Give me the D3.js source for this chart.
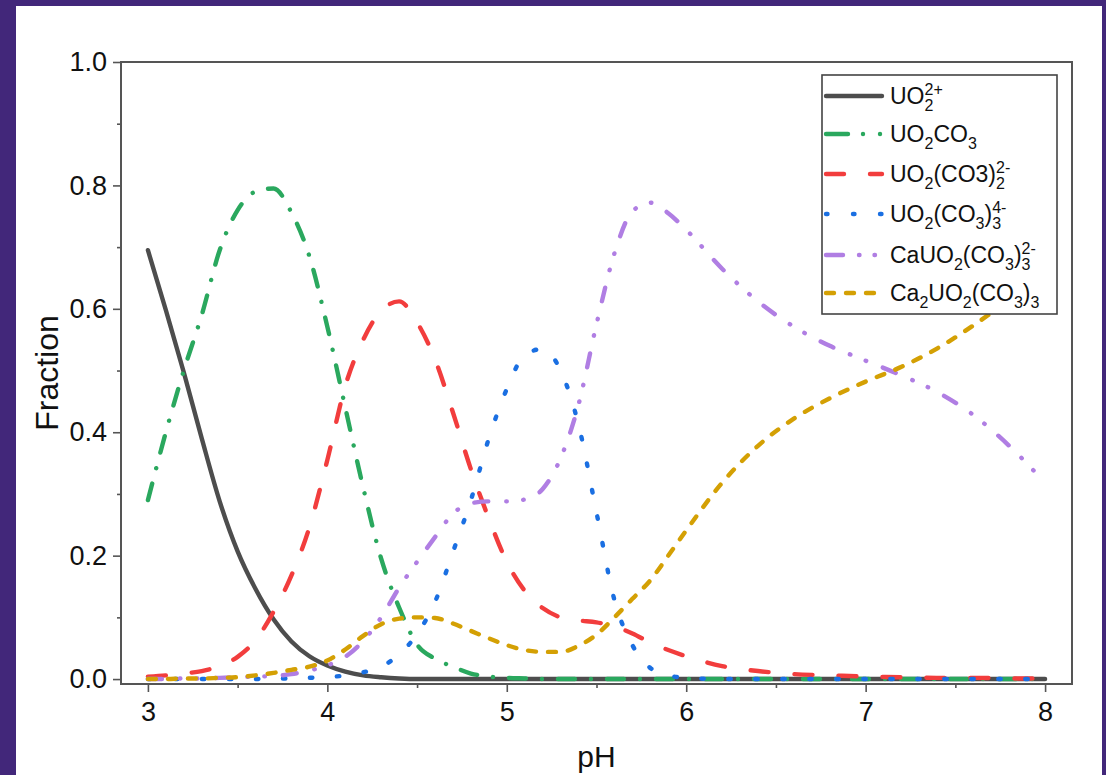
<!DOCTYPE html>
<html>
<head>
<meta charset="utf-8">
<script src="https://cdn.jsdelivr.net/npm/d3@7"></script>
<style>
  html, body { margin: 0; padding: 0; background: #42277a; }
  svg { display: block; }
  text { font-family: "Liberation Sans", Arial, sans-serif; fill: #111; }
</style>
</head>
<body>
<div id="chart"></div>
<script>
// species fractions
const pH = [3.0, 3.1, 3.2, 3.3, 3.4, 3.5, 3.6, 3.7, 3.8, 3.9,
  4.0, 4.1, 4.2, 4.3, 4.4, 4.5, 4.6, 4.7, 4.8, 4.9,
  5.0, 5.1, 5.2, 5.3, 5.4, 5.5, 5.6, 5.7, 5.8, 5.9,
  6.0, 6.2, 6.4, 6.6, 6.8, 7.0, 7.2, 7.4, 7.6, 7.8, 8.0];

const uo2 = [0.695, 0.598, 0.497, 0.39, 0.288, 0.207, 0.146, 0.097, 0.061, 0.037,
  0.022, 0.012, 0.006, 0.003, 0.001, 0, 0, 0, 0, 0,
  0, 0, 0, 0, 0, 0, 0, 0, 0, 0,
  0, 0, 0, 0, 0, 0, 0, 0, 0, 0, 0];

const uo2co3 = [0.29, 0.40, 0.50, 0.59, 0.695, 0.76, 0.79, 0.795, 0.756, 0.685,
  0.571, 0.44, 0.31, 0.195, 0.116, 0.056, 0.033, 0.02, 0.009, 0.004,
  0.002, 0.001, 0, 0, 0, 0, 0, 0, 0, 0,
  0, 0, 0, 0, 0, 0, 0, 0, 0, 0, 0];

const uo2co32 = [0.004, 0.006, 0.009, 0.013, 0.021, 0.036, 0.063, 0.109, 0.168, 0.246,
  0.355, 0.475, 0.55, 0.597, 0.612, 0.578, 0.518, 0.432, 0.34, 0.26,
  0.19, 0.143, 0.115, 0.1, 0.095, 0.092, 0.085, 0.074, 0.059, 0.047,
  0.037, 0.021, 0.013, 0.008, 0.006, 0.004, 0.003, 0.002, 0.002, 0.001, 0.001];

const uo2co33 = [0, 0, 0, 0, 0, 0, 0, 0.001, 0.001, 0.002,
  0.003, 0.006, 0.011, 0.02, 0.04, 0.073, 0.125, 0.206, 0.29, 0.39,
  0.47, 0.525, 0.535, 0.50, 0.412, 0.27, 0.128, 0.055, 0.018, 0.006,
  0.002, 0, 0, 0, 0, 0, 0, 0, 0, 0, 0];

const cauo2co33 = [0, 0, 0.001, 0.001, 0.002, 0.003, 0.004, 0.005, 0.008, 0.014,
  0.022, 0.036, 0.062, 0.1, 0.148, 0.19, 0.23, 0.268, 0.285, 0.288,
  0.288, 0.291, 0.308, 0.358, 0.445, 0.575, 0.69, 0.758, 0.772, 0.755,
  0.728, 0.665, 0.612, 0.571, 0.54, 0.516, 0.492, 0.465, 0.428, 0.378, 0.318];

const ca2uo2co33 = [0, 0, 0.001, 0.001, 0.002, 0.003, 0.006, 0.01, 0.015, 0.02,
  0.03, 0.048, 0.07, 0.089, 0.098, 0.1, 0.099, 0.09, 0.078, 0.066,
  0.055, 0.047, 0.044, 0.044, 0.054, 0.072, 0.1, 0.13, 0.16, 0.2,
  0.241, 0.318, 0.378, 0.422, 0.455, 0.482, 0.506, 0.536, 0.573, 0.615, 0.66];

const yTicks = [0, 0.2, 0.4, 0.6, 0.8, 1.0];
const yMinor = [0.1, 0.3, 0.5, 0.7, 0.9];
const xTicks = [3, 4, 5, 6, 7, 8];
const xMinor = [3.5, 4.5, 5.5, 6.5, 7.5];

// legend labels: plain text pieces and stacked sub/sup pieces
const labels = [
  [{t: 'UO'}, {sub: '2', sup: '2+'}],
  [{t: 'UO'}, {sub: '2'}, {t: 'CO'}, {sub: '3'}],
  [{t: 'UO'}, {sub: '2'}, {t: '(CO3)'}, {sub: '2', sup: '2-'}],
  [{t: 'UO'}, {sub: '2'}, {t: '(CO'}, {sub: '3'}, {t: ')'}, {sub: '3', sup: '4-'}],
  [{t: 'CaUO'}, {sub: '2'}, {t: '(CO'}, {sub: '3'}, {t: ')'}, {sub: '3', sup: '2-'}],
  [{t: 'Ca'}, {sub: '2'}, {t: 'UO'}, {sub: '2'}, {t: '(CO'}, {sub: '3'}, {t: ')'}, {sub: '3'}]
];

const series = [
  {values: uo2, color: '#4d4d4d', dash: null, legendDash: null},
  {values: uo2co3, color: '#2aa85e', dash: '17,16,0.01,16', legendDash: '22,15,0.01,17,0.01,20'},
  {values: uo2co32, color: '#f23d3d', dash: '18,26', legendDash: '18,26'},
  {values: uo2co33, color: '#1a6fe2', dash: '2.5,24.5', legendDash: '1.5,25.5'},
  {values: cauo2co33, color: '#b07ee3', dash: '14,18,0.5,16.5,0.5,18', legendDash: '17,16,0.5,15,0.5,20'},
  {values: ca2uo2co33, color: '#d4a004', dash: '8,12', legendDash: '8,12'}
];

const W = 1106, H = 775;
const plot = {left: 121, right: 1072, top: 62, bottom: 684};
const lineWidth = 4.4;

let svg = d3.select('#chart').append('svg')
  .attr('width', W)
  .attr('height', H);

svg.append('rect')
  .attr('x', 16).attr('y', 6)
  .attr('width', 1086).attr('height', H - 6)
  .attr('fill', '#fff');

let x = d3.scaleLinear().domain([2.85, 8.15]).range([plot.left, plot.right]);
let y = d3.scaleLinear().domain([-0.008, 1.0]).range([plot.bottom, plot.top]);

// curves
let line = d3.line()
  .x((d, i) => x(pH[i]))
  .y(d => y(d))
  .curve(d3.curveMonotoneX);

svg.append('g')
  .selectAll('path')
  .data(series)
  .join('path')
  .attr('d', d => line(d.values))
  .attr('fill', 'none')
  .attr('stroke', d => d.color)
  .attr('stroke-width', lineWidth)
  .attr('stroke-linecap', 'round')
  .attr('stroke-linejoin', 'round')
  .attr('stroke-dasharray', d => d.dash);

// axes
let styleAxis = g => {
  g.select('.domain').remove();
  g.selectAll('.tick line').attr('stroke', '#555').attr('stroke-width', 1.6);
  g.selectAll('.tick text')
    .style('font-size', '27px')
    .style('font-family', '"Liberation Sans", Arial, sans-serif')
    .attr('fill', '#111');
};

svg.append('g')
  .attr('transform', 'translate(' + plot.left + ',0)')
  .call(d3.axisLeft(y).tickValues(yTicks).tickFormat(d3.format('.1f')).tickSize(8).tickPadding(6))
  .call(styleAxis);

svg.append('g')
  .attr('transform', 'translate(' + plot.left + ',0)')
  .call(d3.axisLeft(y).tickValues(yMinor).tickFormat('').tickSize(4))
  .call(styleAxis);

svg.append('g')
  .attr('transform', 'translate(0,' + plot.bottom + ')')
  .call(d3.axisBottom(x).tickValues(xTicks).tickFormat(d3.format('d')).tickSize(8).tickPadding(10))
  .call(styleAxis);

svg.append('g')
  .attr('transform', 'translate(0,' + plot.bottom + ')')
  .call(d3.axisBottom(x).tickValues(xMinor).tickFormat('').tickSize(4))
  .call(styleAxis);

svg.append('rect')
  .attr('x', plot.left).attr('y', plot.top)
  .attr('width', plot.right - plot.left).attr('height', plot.bottom - plot.top)
  .attr('fill', 'none')
  .attr('stroke', '#555')
  .attr('stroke-width', 2);

svg.append('text')
  .attr('transform', 'translate(58,373)rotate(-90)')
  .attr('text-anchor', 'middle')
  .style('font-size', '32px')
  .text('Fraction');

svg.append('text')
  .attr('x', (plot.left + plot.right) / 2)
  .attr('y', 767)
  .attr('text-anchor', 'middle')
  .style('font-size', '30px')
  .text('pH');

// legend
let lg = svg.append('g');
lg.append('rect')
  .attr('x', 822).attr('y', 75)
  .attr('width', 235).attr('height', 239)
  .attr('fill', '#fff')
  .attr('stroke', '#444')
  .attr('stroke-width', 1.6);

let rowY = [96, 134, 174, 214, 255, 293];

series.forEach((s, i) => {
  let ly = rowY[i];
  lg.append('line')
    .attr('x1', 826).attr('x2', 882)
    .attr('y1', ly).attr('y2', ly)
    .attr('stroke', s.color)
    .attr('stroke-width', lineWidth)
    .attr('stroke-linecap', 'round')
    .attr('stroke-dasharray', s.legendDash);

  let cx = 890;
  let base = ly + 8;
  labels[i].forEach(p => {
    if (p.t) {
      let el = lg.append('text').attr('x', cx).attr('y', base).style('font-size', '23px').text(p.t);
      cx += el.node().getComputedTextLength();
    } else {
      let w = 0;
      if (p.sub) {
        let el = lg.append('text').attr('x', cx).attr('y', base + 7).style('font-size', '16px').text(p.sub);
        w = Math.max(w, el.node().getComputedTextLength());
      }
      if (p.sup) {
        let el = lg.append('text').attr('x', cx).attr('y', base - 9).style('font-size', '16px').text(p.sup);
        w = Math.max(w, el.node().getComputedTextLength());
      }
      cx += w;
    }
  });
});
</script>
</body>
</html>
